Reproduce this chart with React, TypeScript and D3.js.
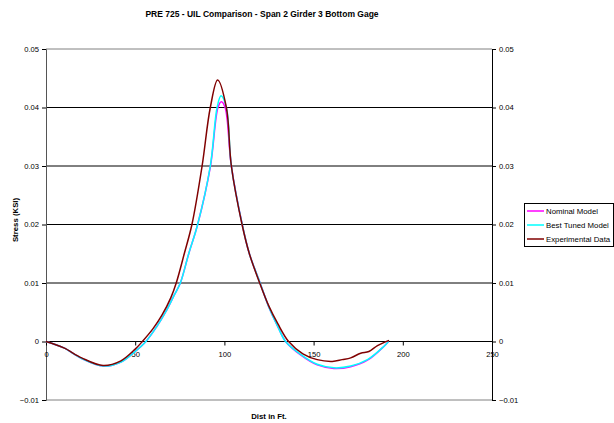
import { useEffect, useRef } from 'react';
import * as d3 from 'd3';

const W = 614;
const H = 423;
const PLOT = { left: 46, right: 492, top: 49, bottom: 400 };

const TITLE = 'PRE 725 - UIL Comparison - Span 2 Girder 3 Bottom Gage';
const X_LABEL = 'Dist in Ft.';
const Y_LABEL = 'Stress (KSI)';

const X_TICKS = [0, 50, 100, 150, 200, 250];
const Y_TICKS = [-0.01, 0, 0.01, 0.02, 0.03, 0.04, 0.05];

// distance (ft) / stress (ksi)
const nominalDist = [0, 10, 20, 32, 42, 50, 56, 62, 67, 72, 75.3, 80, 85, 92.2, 96.4, 98.3, 100.4, 103.9, 110, 114, 120, 125, 130, 134.3, 142.7, 152, 161.4, 170.8, 180.2, 189.5, 192];
const nominalStress = [0, -0.0011, -0.0029, -0.0042, -0.0035, -0.0017, 0, 0.0025, 0.005, 0.008, 0.01, 0.015, 0.02, 0.03, 0.04, 0.041, 0.04, 0.03, 0.02, 0.015, 0.01, 0.0058, 0.0025, 0, -0.0023, -0.004, -0.0046, -0.0043, -0.0032, -0.0008, 0];

const tunedDist = [0, 10, 20, 32, 42, 50, 56, 62, 67, 72, 75.3, 80, 85, 92.1, 95.9, 98.1, 101.1, 103.9, 110, 114, 120, 125, 130, 134.3, 142.7, 152, 161.4, 170.8, 180.2, 189.5, 192];
const tunedStress = [0, -0.0011, -0.0029, -0.0042, -0.0035, -0.0017, 0, 0.0025, 0.005, 0.008, 0.01, 0.015, 0.02, 0.03, 0.04, 0.042, 0.04, 0.03, 0.02, 0.015, 0.01, 0.0058, 0.0025, 0, -0.0022, -0.0039, -0.0045, -0.0042, -0.0031, -0.0008, 0];

const expDist = [0, 10, 20, 32, 42, 50, 54, 60, 65, 70, 73, 77.5, 81.8, 87.5, 92.1, 96.2, 101.1, 103.9, 109.9, 114, 119.8, 125, 130, 136, 144, 152, 160.5, 166, 170.8, 176.4, 181, 185.8, 192.3];
const expStress = [0, -0.0011, -0.0028, -0.0041, -0.0033, -0.0013, 0, 0.0022, 0.0045, 0.0075, 0.01, 0.015, 0.02, 0.03, 0.04, 0.0447, 0.04, 0.03, 0.02, 0.015, 0.01, 0.006, 0.003, 0, -0.0021, -0.0031, -0.0034, -0.0031, -0.0028, -0.002, -0.0017, -0.0007, 0.0002];

const SERIES = [
  { name: 'Nominal Model', color: '#ff00ff', dist: nominalDist, stress: nominalStress },
  { name: 'Best Tuned Model', color: '#00ffff', dist: tunedDist, stress: tunedStress },
  { name: 'Experimental Data', color: '#800000', dist: expDist, stress: expStress },
];

const FONT = '"Liberation Sans", Arial, sans-serif';

export default function App() {
  const svgRef = useRef<SVGSVGElement>(null);

  useEffect(() => {
    const svg = d3.select(svgRef.current);
    svg.selectAll('*').remove();

    const x = d3.scaleLinear().domain([0, 250]).range([PLOT.left, PLOT.right]);
    const y = d3.scaleLinear().domain([-0.01, 0.05]).range([PLOT.bottom, PLOT.top]);

    svg.append('rect').attr('width', W).attr('height', H).attr('fill', '#fff');

    // title
    svg.append('text')
      .attr('x', 262).attr('y', 17)
      .attr('text-anchor', 'middle')
      .attr('font-family', FONT).attr('font-weight', 'bold').attr('font-size', 8.5)
      .text(TITLE);

    // gridlines (plot border top / bottom in gray)
    Y_TICKS.forEach((t) => {
      const edge = t === 0.05 || t === -0.01;
      svg.append('line')
        .attr('x1', PLOT.left).attr('x2', PLOT.right)
        .attr('y1', y(t)).attr('y2', y(t))
        .attr('stroke', edge ? '#808080' : '#000')
        .attr('stroke-width', 1);
    });

    // left axis
    const left = svg.append('g').attr('transform', `translate(${PLOT.left},0)`)
      .call(d3.axisLeft(y).tickValues(Y_TICKS).tickSize(4).tickPadding(3).tickFormat((d) => d3.format('')(+d)));
    // right axis
    const right = svg.append('g').attr('transform', `translate(${PLOT.right},0)`)
      .call(d3.axisRight(y).tickValues(Y_TICKS).tickSize(4).tickPadding(3).tickFormat((d) => d3.format('')(+d)));
    [left, right].forEach((a, i) => {
      a.select('.domain').attr('stroke', i === 0 ? '#555' : '#000');
      a.selectAll('line').attr('stroke', '#000');
      a.selectAll('text').attr('font-family', FONT).attr('font-size', 7.6).attr('fill', '#000');
    });

    // x axis on zero line
    const bottom = svg.append('g').attr('transform', `translate(0,${y(0)})`)
      .call(d3.axisBottom(x).tickValues(X_TICKS).tickSize(4).tickPadding(6));
    bottom.select('.domain').remove();
    bottom.selectAll('line').attr('stroke', '#000');
    bottom.selectAll('text').attr('font-family', FONT).attr('font-size', 7.6).attr('fill', '#000');

    // series
    SERIES.forEach((s) => {
      const pts: [number, number][] = s.dist.map((d, i) => [d, s.stress[i]]);
      const line = d3.line<[number, number]>()
        .x((d) => x(d[0]))
        .y((d) => y(d[1]))
        .curve(d3.curveCatmullRom.alpha(0.5));
      svg.append('path')
        .attr('d', line(pts))
        .attr('fill', 'none')
        .attr('stroke', s.color)
        .attr('stroke-width', 1.5);
    });

    // axis titles
    svg.append('text')
      .attr('transform', `translate(18,220) rotate(-90)`)
      .attr('text-anchor', 'middle')
      .attr('font-family', FONT).attr('font-weight', 'bold').attr('font-size', 7.8)
      .text(Y_LABEL);
    svg.append('text')
      .attr('x', 269).attr('y', 419)
      .attr('text-anchor', 'middle')
      .attr('font-family', FONT).attr('font-weight', 'bold').attr('font-size', 7.8)
      .text(X_LABEL);

    // legend
    const lg = svg.append('g').attr('transform', 'translate(524,203)');
    lg.append('rect')
      .attr('x', 0.5).attr('y', 0.5).attr('width', 89).attr('height', 43)
      .attr('fill', '#fff').attr('stroke', '#000');
    SERIES.forEach((s, i) => {
      const cy = 8 + i * 14;
      lg.append('line')
        .attr('x1', 3).attr('x2', 20).attr('y1', cy).attr('y2', cy)
        .attr('stroke', s.color).attr('stroke-width', 1.5);
      lg.append('text')
        .attr('x', 22).attr('y', cy + 3)
        .attr('font-family', FONT).attr('font-size', 7.8)
        .text(s.name);
    });
  }, []);

  return (
    <svg
      ref={svgRef}
      width={W}
      height={H}
      style={{ position: 'absolute', left: 0, top: 0, display: 'block' }}
    />
  );
}
